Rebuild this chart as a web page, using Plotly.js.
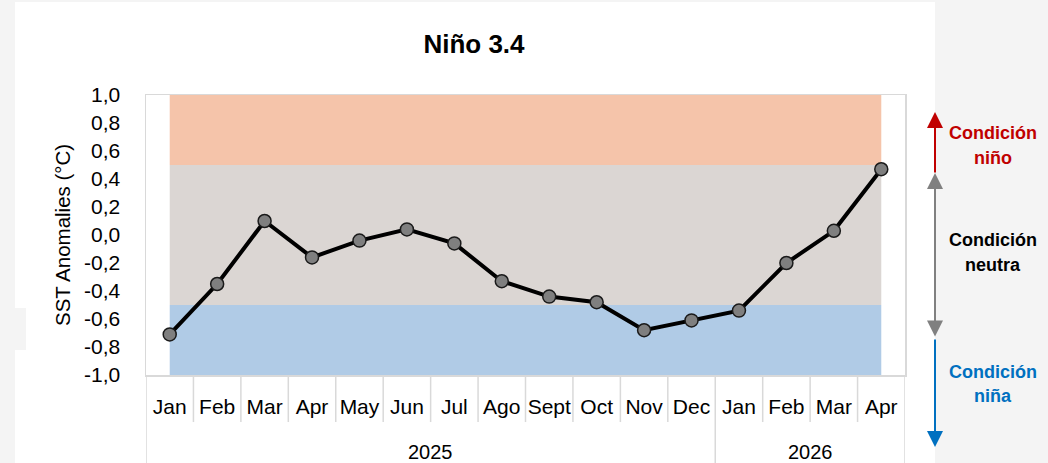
<!DOCTYPE html>
<html>
<head>
<meta charset="utf-8">
<script src="https://cdn.plot.ly/plotly-3.0.1.min.js"></script>
<style>
  html, body { margin: 0; padding: 0; background: #F4F4F4; }
  #chart { width: 1048px; height: 463px; }
</style>
</head>
<body>
<div id="chart"></div>
<script>
// ---- data ----
const months = ['Jan','Feb','Mar','Apr','May','Jun','Jul','Ago','Sept','Oct','Nov','Dec','Jan','Feb','Mar','Apr'];
const years = ['2025', '2026'];
const monthsPerYear = [12, 4];
const anomalies = [-0.71, -0.35, 0.10, -0.16, -0.04, 0.04, -0.06, -0.33, -0.44, -0.48, -0.68, -0.61, -0.54, -0.20, 0.03, 0.47];
const yTickVals = [-1.0, -0.8, -0.6, -0.4, -0.2, 0.0, 0.2, 0.4, 0.6, 0.8, 1.0];
const ninoThreshold = 0.5;
const ninaThreshold = -0.5;
const conditionLabels = [['Condición', 'niño'], ['Condición', 'neutra'], ['Condición', 'niña']];

// ---- build ----
const idx = months.map((m, i) => i);
const FONT = 'Liberation Sans, Arial, sans-serif';
const gridCol = '#D9D9D9';

const trace = {
  x: idx,
  y: anomalies,
  type: 'scatter',
  mode: 'lines+markers',
  line: { color: '#000000', width: 4 },
  marker: { size: 13, color: '#7F7F7F', line: { color: '#1a1a1a', width: 1.5 } },
  hoverinfo: 'x+y',
  cliponaxis: false
};

const shapes = [];
// white card behind chart
shapes.push({ type: 'rect', xref: 'paper', yref: 'paper', x0: -0.1726, x1: 1.0395, y0: -0.32, y1: 1.332,
  fillcolor: '#FFFFFF', line: { width: 0 }, layer: 'below' });
shapes.push({ type: 'rect', xref: 'paper', yref: 'paper', x0: -0.2, x1: -0.158, y0: 0.089, y1: 0.239,
  fillcolor: '#F4F4F4', line: { width: 0 }, layer: 'below' });

// condition bands
const xFirst = idx[0], xLast = idx[idx.length - 1];
shapes.push({ type: 'rect', xref: 'x', yref: 'y', x0: xFirst, x1: xLast, y0: ninoThreshold, y1: yTickVals[yTickVals.length - 1],
  fillcolor: 'rgb(245,196,170)', line: { width: 0 }, layer: 'below' });
shapes.push({ type: 'rect', xref: 'x', yref: 'y', x0: xFirst, x1: xLast, y0: ninaThreshold, y1: ninoThreshold,
  fillcolor: 'rgb(219,214,211)', line: { width: 0 }, layer: 'below' });
shapes.push({ type: 'rect', xref: 'x', yref: 'y', x0: xFirst, x1: xLast, y0: yTickVals[0], y1: ninaThreshold,
  fillcolor: 'rgb(176,203,230)', line: { width: 0 }, layer: 'below' });

// category table separators
const yearBounds = [ -0.5 ];
let acc = -0.5;
monthsPerYear.forEach(n => { acc += n; yearBounds.push(acc); });
for (let i = 1; i < months.length; i++) {
  const b = i - 0.5;
  if (yearBounds.includes(b)) continue;
  shapes.push({ type: 'line', xref: 'x', yref: 'paper', x0: b, x1: b, y0: 0, y1: -0.168,
    line: { color: gridCol, width: 1.5 } });
}
yearBounds.forEach(b => {
  shapes.push({ type: 'line', xref: 'x', yref: 'paper', x0: b, x1: b, y0: 0, y1: -0.32,
    line: { color: gridCol, width: 1.5 } });
});

const annotations = [];
// year labels
let start = 0;
years.forEach((yr, k) => {
  const center = start + (monthsPerYear[k] - 1) / 2;
  annotations.push({ x: center, xref: 'x', y: -0.275, yref: 'paper', text: yr, showarrow: false,
    font: { family: FONT, size: 20, color: '#000000' }, xanchor: 'center', yanchor: 'middle' });
  start += monthsPerYear[k];
});

// y axis title
annotations.push({ x: -0.1107, xref: 'paper', y: 0.5, yref: 'paper', text: 'SST Anomalies (°C)', textangle: -90,
  showarrow: false, font: { family: FONT, size: 20.5, color: '#000000' }, xanchor: 'center', yanchor: 'middle' });

// arrows (paper coords of plot area: px -> (px-146)/759, py -> (375-py)/280)
const px = v => (v - 146) / 759;
const py = v => (375 - v) / 280;
annotations.push({ xref: 'paper', yref: 'paper', x: px(935), y: py(112), ax: 0, ay: 62, text: '',
  showarrow: true, arrowhead: 2, arrowsize: 1.6, arrowwidth: 2, arrowcolor: '#C00000' });
annotations.push({ xref: 'paper', yref: 'paper', x: px(935), y: py(173), ax: 0, ay: 165, text: '',
  showarrow: true, arrowside: 'end+start', arrowhead: 2, startarrowhead: 2, arrowsize: 1.6, startarrowsize: 1.6,
  arrowwidth: 2, arrowcolor: '#808080' });
annotations.push({ xref: 'paper', yref: 'paper', x: px(935), y: py(447), ax: 0, ay: -109, text: '',
  showarrow: true, arrowhead: 2, arrowsize: 1.6, arrowwidth: 2, arrowcolor: '#0070C0' });

// condition labels
const labelColors = ['#C00000', '#000000', '#0070C0'];
const labelYs = [[133, 158], [240, 265], [372, 396]];
conditionLabels.forEach((pair, k) => {
  pair.forEach((t, j) => {
    annotations.push({ xref: 'paper', yref: 'paper', x: px(993), y: py(labelYs[k][j]), text: '<b>' + t + '</b>',
      showarrow: false, xanchor: 'center', yanchor: 'middle', font: { family: FONT, size: 18, color: labelColors[k] } });
  });
});

const layout = {
  width: 1048, height: 463,
  margin: { l: 146, r: 143, t: 95, b: 88, pad: 0 },
  paper_bgcolor: '#F4F4F4',
  plot_bgcolor: '#FFFFFF',
  separators: ',.',
  showlegend: false,
  title: { text: '<b>Niño 3.4</b>', x: 474 / 1048, xref: 'container', xanchor: 'center',
    y: 1 - 44 / 463, yref: 'container', yanchor: 'middle',
    font: { family: FONT, size: 26, color: '#000000' } },
  xaxis: {
    range: [-0.5, months.length - 0.5],
    tickmode: 'array', tickvals: idx, ticktext: months,
    showgrid: false, zeroline: false, ticks: '',
    showline: true, mirror: true, linecolor: gridCol, linewidth: 1.5,
    ticklabelstandoff: 12,
    tickfont: { family: FONT, size: 21, color: '#000000' },
    fixedrange: true
  },
  yaxis: {
    range: [yTickVals[0], yTickVals[yTickVals.length - 1]],
    tickmode: 'array', tickvals: yTickVals,
    ticktext: yTickVals.map(v => v.toFixed(1).replace('.', ',')),
    showgrid: false, zeroline: false, ticks: '',
    showline: true, mirror: true, linecolor: gridCol, linewidth: 1.5,
    ticklabelstandoff: 20,
    tickfont: { family: FONT, size: 21, color: '#000000' },
    fixedrange: true
  },
  shapes: shapes,
  annotations: annotations
};

Plotly.newPlot('chart', [trace], layout, { displayModeBar: false, staticPlot: true });
</script>
</body>
</html>
